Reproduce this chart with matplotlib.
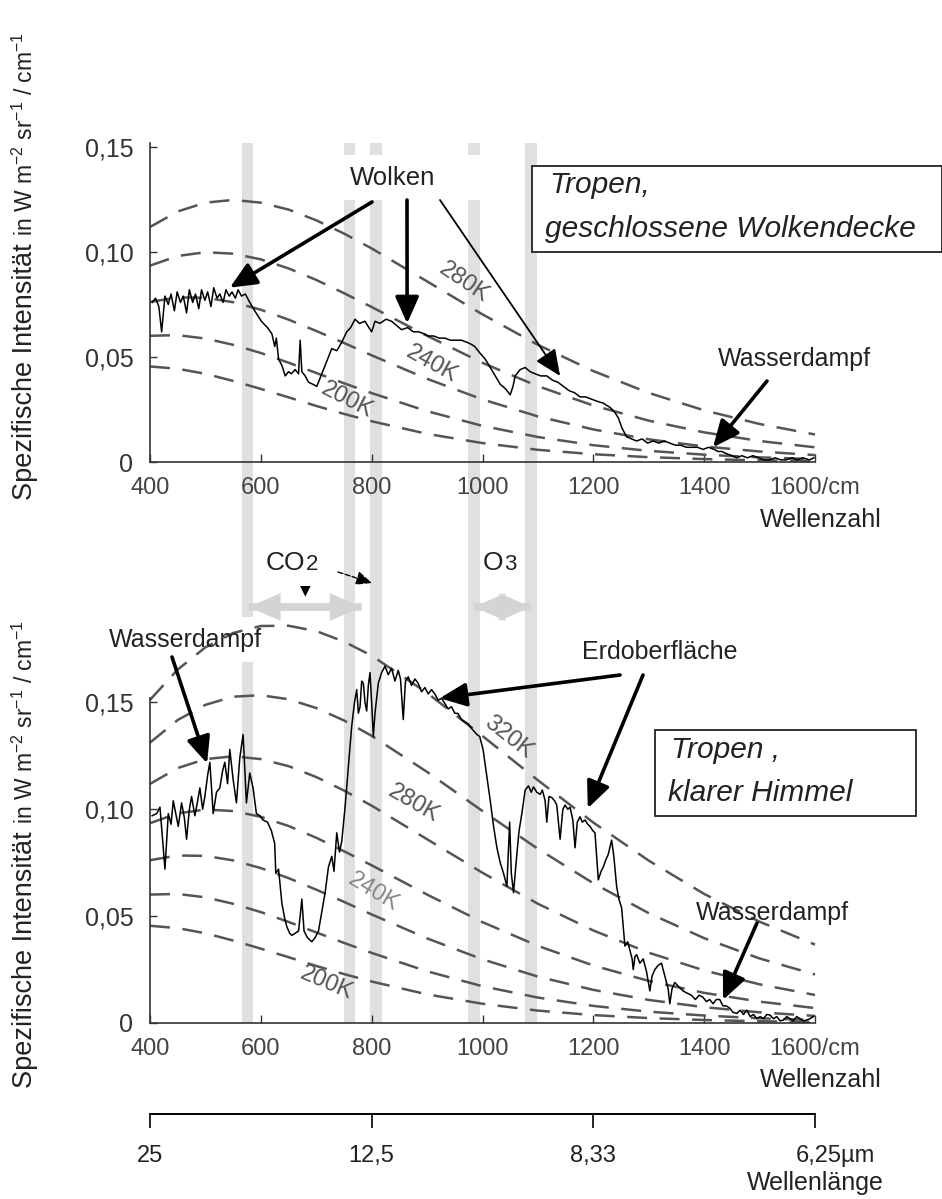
import matplotlib
matplotlib.use('Agg')
import matplotlib.pyplot as plt
from matplotlib.patches import Rectangle, FancyArrowPatch
from matplotlib.transforms import offset_copy

plt.rcParams['font.family'] = ['Liberation Sans', 'DejaVu Sans']
plt.rcParams['mathtext.fontset'] = 'custom'
plt.rcParams['mathtext.rm'] = 'Liberation Sans'
plt.rcParams['mathtext.it'] = 'Liberation Sans:italic'

# ---------------- Daten ----------------
# Schwarzkoerperkurven (gestrichelt), Wellenzahl in 1/cm
planck_wn = [400, 450, 500, 550, 600, 650, 700, 750, 800, 900, 1000, 1100, 1200, 1300, 1400, 1500, 1600]
planck_200 = [.0455, .0444, .0420, .0386, .0348, .0308, .0267, .0229, .0194, .0134, .0090, .0058, .0037, .0023, .0014, .0008, .0005]
planck_220 = [.0601, .0604, .0588, .0558, .0519, .0473, .0424, .0375, .0328, .0242, .0172, .0119, .0080, .0053, .0035, .0022, .0014]
planck_240 = [.0762, .0784, .0782, .0761, .0725, .0678, .0624, .0567, .0508, .0396, .0298, .0217, .0155, .0108, .0074, .0050, .0033]
planck_260 = [.0935, .0981, .0999, .0992, .0965, .0922, .0867, .0804, .0738, .0601, .0472, .0361, .0269, .0197, .0141, .0100, .0070]
planck_280 = [.1119, .1193, .1235, .1248, .1235, .1202, .1151, .1088, .1017, .0860, .0703, .0558, .0433, .0329, .0246, .0181, .0131]
planck_300 = [.1312, .1418, .1489, .1527, .1534, .1515, .1474, .1416, .1344, .1175, .0992, .0815, .0654, .0514, .0397, .0302, .0227]
planck_320 = [.1512, .1654, .1758, .1825, .1858, .1859, .1834, .1785, .1719, .1545, .1343, .1136, .0938, .0760, .0604, .0474, .0367]

# Spektrum oben: Tropen, geschlossene Wolkendecke
top_wn = [404, 410, 416, 421, 427, 433, 438, 444, 449, 455,
          460, 466, 471, 477, 482, 488, 493, 499, 504, 510,
          515, 521, 526, 532, 537, 543, 548, 554, 559, 565,
          572, 580, 589, 601, 612, 620, 625, 628, 632, 638,
          644, 650, 655, 662, 668, 671, 674, 680, 686, 694,
          701, 710, 719, 728, 737, 746, 755, 762, 770, 778,
          788, 795, 800, 806, 815, 826, 836, 845, 854, 865,
          875, 885, 895, 902, 912, 922, 932, 942, 952, 962,
          972, 980, 986, 995, 1005, 1014, 1023, 1032, 1041, 1050,
          1055, 1059, 1068, 1077, 1086, 1095, 1105, 1116, 1126, 1136,
          1146, 1156, 1166, 1176, 1186, 1196, 1206, 1218, 1230, 1238,
          1245, 1252, 1260, 1269, 1278, 1288, 1298, 1308, 1318, 1328,
          1338, 1348, 1358, 1368, 1378, 1388, 1398, 1408, 1418, 1425,
          1432, 1440, 1450, 1459, 1468, 1478, 1488, 1498, 1508, 1518,
          1528, 1538, 1548, 1558, 1568, 1578, 1590, 1598]
top_val = [.076, .078, .074, .062, .079, .075, .080, .072, .081, .076,
           .079, .071, .082, .076, .080, .073, .082, .077, .081, .074,
           .083, .078, .080, .076, .082, .079, .081, .078, .082, .079,
           .080, .076, .072, .067, .064, .061, .055, .059, .049, .046,
           .041, .043, .042, .044, .042, .058, .043, .041, .038, .037,
           .036, .042, .048, .054, .053, .057, .062, .064, .068, .066,
           .067, .064, .062, .067, .066, .068, .067, .065, .063, .064,
           .062, .062, .061, .060, .060, .059, .059, .058, .058, .058,
           .057, .056, .055, .052, .049, .045, .041, .037, .035, .032,
           .036, .041, .044, .045, .043, .042, .041, .041, .039, .038,
           .036, .034, .033, .031, .031, .030, .029, .028, .026, .024,
           .021, .016, .012, .011, .010, .011, .009, .010, .009, .010,
           .009, .008, .008, .007, .007, .007, .006, .007, .006, .005,
           .005, .004, .003, .002, .003, .002, .003, .002, .001, .001,
           .002, .001, .001, .002, .001, .002, .001, .002]

# Spektrum unten: Tropen, klarer Himmel
bot_wn = [404, 412, 418, 427, 433, 438, 442, 451, 457, 462,
          466, 471, 475, 481, 486, 490, 495, 499, 504, 508,
          514, 520, 526, 531, 535, 540, 544, 550, 556, 562,
          568, 574, 580, 586, 592, 598, 604, 612, 619, 625,
          627, 632, 638, 643, 647, 652, 656, 662, 668, 671,
          674, 678, 684, 692, 698, 704, 710, 716, 722, 728,
          732, 737, 742, 746, 752, 758, 764, 769, 773, 776,
          779, 782, 785, 788, 791, 794, 797, 800, 803, 806,
          812, 818, 824, 830, 836, 842, 848, 852, 857, 861,
          866, 872, 878, 884, 890, 896, 902, 908, 914, 920,
          926, 932, 938, 944, 950, 956, 962, 968, 974, 983,
          990, 995, 1001, 1008, 1014, 1020, 1026, 1032, 1038, 1044,
          1049, 1052, 1056, 1062, 1066, 1071, 1077, 1083, 1088, 1092,
          1098, 1104, 1108, 1113, 1116, 1120, 1125, 1130, 1134, 1140,
          1145, 1149, 1154, 1158, 1163, 1167, 1171, 1176, 1180, 1185,
          1190, 1194, 1199, 1203, 1209, 1214, 1218, 1222, 1227, 1233,
          1237, 1242, 1246, 1251, 1254, 1257, 1262, 1266, 1270, 1272,
          1275, 1278, 1284, 1290, 1296, 1302, 1306, 1311, 1317, 1323,
          1330, 1335, 1338, 1342, 1347, 1354, 1362, 1369, 1377, 1384,
          1391, 1398, 1404, 1410, 1416, 1422, 1428, 1434, 1440, 1446,
          1452, 1459, 1465, 1471, 1477, 1483, 1489, 1495, 1501, 1507,
          1513, 1519, 1525, 1531, 1537, 1543, 1549, 1555, 1561, 1567,
          1573, 1579, 1585, 1591, 1597]
bot_val = [.097, .098, .101, .072, .098, .093, .104, .092, .103, .096,
           .086, .100, .106, .097, .104, .110, .100, .106, .116, .122,
           .098, .108, .110, .118, .122, .112, .128, .114, .103, .124,
           .135, .103, .117, .110, .098, .097, .095, .094, .090, .084,
           .070, .072, .056, .049, .045, .042, .041, .042, .043, .050,
           .058, .043, .040, .038, .040, .043, .052, .061, .073, .078,
           .071, .089, .080, .085, .101, .120, .139, .150, .156, .145,
           .148, .160, .159, .150, .146, .158, .164, .150, .134, .145,
           .159, .164, .167, .163, .166, .160, .165, .161, .142, .160,
           .162, .158, .161, .159, .155, .157, .154, .156, .154, .151,
           .152, .1495, .147, .148, .145, .1448, .142, .141, .140, .137,
           .135, .134, .128, .115, .104, .092, .082, .075, .070, .064,
           .094, .070, .061, .079, .090, .098, .109, .111, .108, .1105,
           .108, .107, .109, .104, .094, .106, .1055, .104, .102, .086,
           .100, .102, .100, .101, .095, .082, .094, .0965, .094, .095,
           .093, .092, .090, .089, .067, .071, .073, .076, .079, .0856,
           .078, .064, .058, .054, .045, .036, .038, .034, .030, .025,
           .031, .032, .028, .030, .024, .015, .022, .025, .027, .028,
           .021, .016, .009, .016, .019, .017, .015, .014, .013, .011,
           .013, .012, .010, .011, .009, .011, .011, .008, .008, .007,
           .005, .0045, .006, .004, .006, .003, .004, .002, .003, .002,
           .004, .0037, .002, .003, .001, .0014, .003, .002, .001, .003,
           .002, .001, .0014, .002, .003]

top_curves = [planck_200, planck_220, planck_240, planck_260, planck_280]
bot_curves = [planck_200, planck_220, planck_240, planck_260, planck_280, planck_300, planck_320]

xticks = [400, 600, 800, 1000, 1200, 1400, 1600]
xtick_labels = ['400', '600', '800', '1000', '1200', '1400', '1600/cm']
yticks = [0, 0.05, 0.10, 0.15]
ytick_labels = ['0', '0,05', '0,10', '0,15']
lambda_wn = [400, 800, 1200, 1600]
lambda_labels = ['25', '12,5', '8,33', '6,25µm']

# Absorptionsbanden (graue Streifen), Wellenzahl von/bis
bands = [(566, 586), (750, 770), (797, 819), (974, 995), (1077, 1098)]
# CO2- und O3-Bereich (Doppelpfeile), Wellenzahl von/bis
co2_span = (578, 782)
o3_span = (984, 1088)

# Temperaturbeschriftungen: Text, Wellenzahl, Wert, Winkel
top_tlabels = [('280K', 967, 0.0857, -34), ('240K', 909, 0.0467, -29), ('200K', 755, 0.0295, -27)]
bot_tlabels = [('320K', 1046, 0.1337, -38), ('280K', 875, 0.1029, -30),
               ('240K', 804, 0.0612, -31), ('200K', 719, 0.0187, -23)]

# ---------------- Abbildung ----------------
W, H = 942, 1199
fig = plt.figure(figsize=(W / 100, H / 100), dpi=100)


def box(x0, y0, x1, y1):
    # Pixelkasten (von oben gemessen) -> Figurenbruchteile
    return [x0 / W, 1 - y1 / H, (x1 - x0) / W, (y1 - y0) / H]


grey = '#555555'
ink = '#222222'

# Hintergrundachse fuer die Streifen (x = Wellenzahl, y = Pixel)
axb = fig.add_axes(box(150, 143, 815, 1023))
axb.set_xlim(400, 1600)
axb.set_ylim(1023, 143)
axb.axis('off')
axb.set_zorder(0)
for i, (lo, hi) in enumerate(bands):
    if i == 0:
        axb.bar((lo + hi) / 2, 617 - 143, bottom=143, width=hi - lo, color='#e0e0e0', lw=0)
        axb.bar((lo + hi) / 2, 1023 - 662, bottom=662, width=hi - lo, color='#e0e0e0', lw=0)
    else:
        axb.bar((lo + hi) / 2, 1023 - 143, bottom=143, width=hi - lo, color='#e0e0e0', lw=0)

# CO2 / O3 Doppelpfeile: zwei gegenlaeufige Pfeile uebereinander
for (lo, hi), hl in [(co2_span, 2.3), (o3_span, 2.3)]:
    style = 'simple,head_length=%.1f,head_width=2.0,tail_width=0.55' % hl
    for a, b in [(lo, hi), (hi, lo)]:
        axb.add_patch(FancyArrowPatch((a, 607), (b, 607), arrowstyle=style, mutation_scale=10,
                                      color='#d4d4d4', lw=0, shrinkA=0, shrinkB=0))


def style_panel(ax, ytop):
    ax.patch.set_alpha(0)
    ax.set_zorder(2)
    ax.set_xlim(400, 1600)
    ax.set_ylim(0, ytop)
    for s in ['top', 'right']:
        ax.spines[s].set_visible(False)
    for s in ['left', 'bottom']:
        ax.spines[s].set_linewidth(1.2)
        ax.spines[s].set_color('#333333')
    ax.spines['left'].set_bounds(0, 0.152)
    ax.set_xticks(xticks)
    ax.set_xticklabels(xtick_labels, fontsize=17, color='#444444')
    ax.set_yticks(yticks)
    ax.set_yticklabels(ytick_labels, fontsize=18, color='#333333')
    ax.tick_params(axis='x', direction='in', length=6, width=1, pad=11, color='#333333')
    ax.tick_params(axis='y', direction='in', length=5, width=1, pad=12, color='#333333')


ax1 = fig.add_axes(box(150, 147, 815, 462))
style_panel(ax1, 0.15)
for vals in top_curves:
    ax1.plot(planck_wn, vals, color=grey, lw=1.8, ls=(0, (8, 5)), clip_on=False)
ax1.plot(top_wn, top_val, color='black', lw=1.1)
for txt, x, y, rot in top_tlabels:
    ax1.text(x, y, txt, fontsize=17, color=grey, rotation=rot,
             rotation_mode='anchor', ha='center', va='center')

ax2 = fig.add_axes(box(150, 617, 815, 1023))
style_panel(ax2, 0.19)
for vals in bot_curves:
    ax2.plot(planck_wn, vals, color=grey, lw=1.8, ls=(0, (8, 5)), clip_on=False)
ax2.plot(bot_wn, bot_val, color='black', lw=1.1)
for txt, x, y, rot in bot_tlabels:
    ax2.text(x, y, txt, fontsize=17, color='#888888' if txt == '240K' else grey, rotation=rot,
             rotation_mode='anchor', ha='center', va='center')

# Wellenlaengenachse
ax3 = fig.add_axes(box(150, 1113, 815, 1114))
ax3.set_xlim(400, 1600)
ax3.set_yticks([])
ax3.patch.set_alpha(0)
for s in ['top', 'right', 'left']:
    ax3.spines[s].set_visible(False)
ax3.spines['bottom'].set_linewidth(1.4)
ax3.set_xticks(lambda_wn)
ax3.set_xticklabels(lambda_labels, fontsize=17, color=ink)
ax3.tick_params(axis='x', direction='out', length=10, width=1.2, pad=12)
last = ax3.get_xticklabels()[-1]
last.set_transform(offset_copy(last.get_transform(), fig=fig, x=20, units='dots'))

# Ueberlagerung in Pixelkoordinaten fuer Beschriftungen und Pfeile
ov = fig.add_axes([0, 0, 1, 1])
ov.set_xlim(0, W)
ov.set_ylim(H, 0)
ov.axis('off')
ov.set_zorder(5)

ov.text(882, 520, 'Wellenzahl', fontsize=18, ha='right', va='center', color=ink)
ov.text(882, 1080, 'Wellenzahl', fontsize=18, ha='right', va='center', color=ink)
ov.text(884, 1183, 'Wellenlänge', fontsize=18, ha='right', va='center', color=ink)

# Kaesten
ov.add_patch(Rectangle((532, 166), 410, 86, fc='white', ec=ink, lw=1.3))
ov.text(549, 185, 'Tropen,', fontsize=21.5, style='italic', va='center', color=ink)
ov.text(545, 229, 'geschlossene Wolkendecke', fontsize=21.5, style='italic', va='center', color=ink)
ov.add_patch(Rectangle((655, 730), 261, 86, fc='white', ec=ink, lw=1.3))
ov.text(671, 750, 'Tropen ,', fontsize=21.5, style='italic', va='center', color=ink)
ov.text(668, 793, 'klarer Himmel', fontsize=21.5, style='italic', va='center', color=ink)

# Wolken
ov.add_patch(Rectangle((344, 155), 138, 45, fc='white', ec='none'))
ov.text(393, 178, 'Wolken', fontsize=18.5, ha='center', va='center', color=ink)

thick = dict(arrowstyle='-|>,head_length=0.9,head_width=0.4', lw=2.6, color='black',
             shrinkA=0, shrinkB=0, mutation_scale=18)
thin = dict(arrowstyle='-|>,head_length=0.9,head_width=0.4', lw=1.3, color='black',
            shrinkA=0, shrinkB=0, mutation_scale=18)


def pointer(ax, xy, start, props):
    # Pfeil vom Beschriftungspunkt (Pixel) zu einem Datenpunkt
    ov.annotate('', xy=xy, xycoords=ax.transData, xytext=start, textcoords='data',
                arrowprops=props)


pointer(ax1, (544, 0.083), (372, 202), thick)
pointer(ax1, (864, 0.066), (407, 200), thick)
pointer(ax1, (1140, 0.041), (440, 200), thin)

ov.text(794, 359, 'Wasserdampf', fontsize=18, ha='center', va='center', color=ink)
pointer(ax1, (1416, 0.007), (767, 381), thick)

ov.text(185, 640, 'Wasserdampf', fontsize=18, ha='center', va='center', color=ink)
pointer(ax2, (503, 0.1215), (172, 657), thick)

ov.text(660, 652, 'Erdoberfläche', fontsize=18, ha='center', va='center', color=ink)
pointer(ax2, (923, 0.152), (620, 675), thick)
pointer(ax2, (1190, 0.1005), (643, 675), thick)

ov.text(772, 913, 'Wasserdampf', fontsize=18, ha='center', va='center', color=ink)
pointer(ax2, (1434, 0.0108), (757, 923), thick)

# CO2 / O3
ov.text(285, 563, 'CO', fontsize=19, ha='center', va='center', color=ink)
ov.text(312, 565, '2', fontsize=16, ha='center', va='center', color=ink)
ov.text(305, 590, '▼', fontsize=10, ha='center', va='center', family='DejaVu Sans')
ov.annotate('', xy=(372, 583), xytext=(338, 572),
            arrowprops=dict(arrowstyle='-|>,head_length=0.8,head_width=0.35', lw=1, ls='--',
                            color='black', shrinkA=0, shrinkB=0, mutation_scale=12))
ov.text(493, 563, 'O', fontsize=19, ha='center', va='center', color=ink)
ov.text(510, 565, '3', fontsize=16, ha='center', va='center', color=ink)

# y-Achsenbeschriftung, zweiteilig in verschiedenen Groessen
fig.canvas.draw()
rend = fig.canvas.get_renderer()
for ystart in [500, 1088]:
    t1 = ov.text(25, ystart, 'Spezifische Intensität ', fontsize=19.5, rotation=90,
                 rotation_mode='anchor', ha='left', va='center', color=ink)
    bb = t1.get_window_extent(rend)
    yend = ov.transData.inverted().transform((0, bb.y1))[1]
    ov.text(25, yend, r'in W m$^{-2}$ sr$^{-1}$ / cm$^{-1}$', fontsize=16.5, rotation=90,
            rotation_mode='anchor', ha='left', va='center', color=ink)

fig.savefig('out.png', dpi=100)
